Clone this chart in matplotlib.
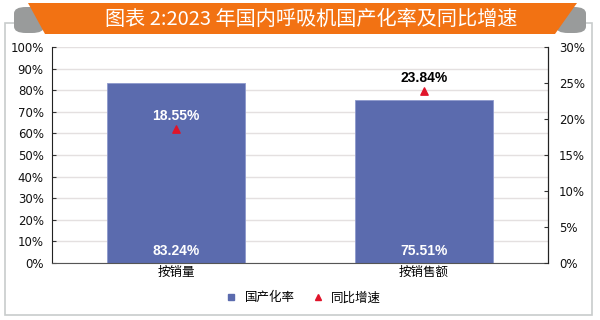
import matplotlib.pyplot as plt
from matplotlib.patches import Polygon, Rectangle, FancyBboxPatch
from matplotlib.lines import Line2D

plt.rcParams['font.family'] = ['Noto Sans CJK SC', 'DejaVu Sans']

# data
categories = ['按销量', '按销售额']
localization_rate = [83.24, 75.51]   # 国产化率 (%), left axis
yoy_growth = [18.55, 23.84]          # 同比增速 (%), right axis
left_ticks = list(range(0, 101, 10))
right_ticks = list(range(0, 31, 5))

bar_color = '#5B6BAE'
tri_color = '#E0142A'
orange = '#F27213'

fig = plt.figure(figsize=(6, 3.2), dpi=100)

# outer frame
fig.patches.append(Rectangle((5 / 600, 5 / 320), 587 / 600, 292 / 320,
                             transform=fig.transFigure, fill=False,
                             edgecolor='#C8CCCC', lw=1.2))
# gray tabs behind the banner
for x0 in (14, 556):
    fig.patches.append(FancyBboxPatch((x0 / 600, 287 / 320), 30 / 600, 26 / 320,
                                      boxstyle='round,pad=0,rounding_size=0.02',
                                      transform=fig.transFigure,
                                      facecolor='#999B9B', edgecolor='none'))
# orange banner
banner = [(28, 317), (577, 317), (555, 286), (45, 286)]
fig.patches.append(Polygon([(x / 600, y / 320) for x, y in banner], closed=True,
                           transform=fig.transFigure, facecolor=orange,
                           edgecolor='none'))
fig.text(311 / 600, 301 / 320, '图表 2:2023 年国内呼吸机国产化率及同比增速',
         ha='center', va='center', color='white', fontsize=14.5)

ax = fig.add_axes([52 / 600, 57 / 320, 496 / 600, 216 / 320])
ax2 = ax.twinx()

x = [0, 1]
ax.bar(x, localization_rate, width=0.56, color=bar_color,
       edgecolor='#8E99CC', lw=0.6, zorder=2)
ax.set_xlim(-0.5, 1.5)
ax.set_ylim(0, 100)
ax.set_yticks(left_ticks)
ax.set_yticklabels([f'{t}%' for t in left_ticks], family='DejaVu Sans')
ax.set_xticks(x)
ax.set_xticklabels(categories, fontsize=9)
ax.grid(axis='y', color='#E4E0E0', lw=1)
ax.set_axisbelow(True)
for xi, v in zip(x, localization_rate):
    ax.text(xi, 2.5, f'{v:.2f}%', ha='center', va='bottom', color='white',
            fontsize=10, fontweight='bold', family='Liberation Sans')

ax2.scatter(x, yoy_growth, marker='^', s=28, color=tri_color, zorder=3)
ax2.set_ylim(0, 30)
ax2.set_yticks(right_ticks)
ax2.set_yticklabels([f'{t}%' for t in right_ticks], family='DejaVu Sans')
label_colors = ['white', 'black']
for xi, v, c in zip(x, yoy_growth, label_colors):
    ax2.text(xi, v + 0.9, f'{v:.2f}%', ha='center', va='bottom', color=c,
             fontsize=10, fontweight='bold', family='Liberation Sans')

for a in (ax, ax2):
    a.spines['top'].set_visible(False)
    a.tick_params(axis='y', labelsize=8.5, length=3, direction='in',
                  colors='#333333', labelcolor='#111111')
    a.tick_params(axis='x', length=0, pad=2)
ax.spines['left'].set_color('#222222')
ax2.spines['right'].set_color('#222222')
ax.spines['bottom'].set_color('#555555')
ax2.spines['left'].set_visible(False)
ax2.spines['bottom'].set_visible(False)
ax.tick_params(axis='y', pad=6)
ax2.tick_params(axis='y', pad=8)

handles = [Line2D([], [], marker='s', ls='none', color=bar_color, markersize=5),
           Line2D([], [], marker='^', ls='none', color=tri_color, markersize=5)]
fig.legend(handles, ['国产化率', '同比增速'], loc='center',
           bbox_to_anchor=(0.5, 22 / 320), ncol=2, frameon=False,
           fontsize=9, handletextpad=0.1, columnspacing=0.8)

fig.savefig('out.png', dpi=100)
